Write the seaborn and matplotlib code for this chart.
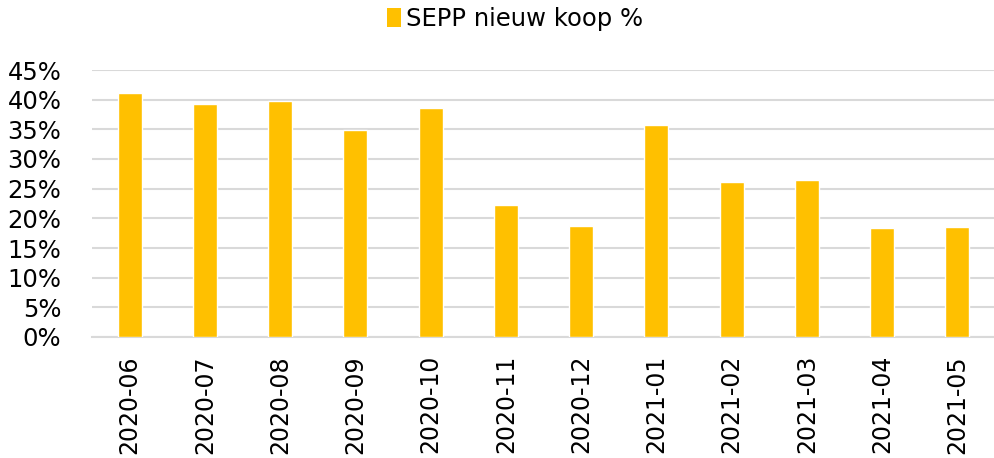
import matplotlib
matplotlib.use("Agg")
import matplotlib.pyplot as plt
import seaborn as sns
import pandas as pd
from matplotlib.patches import Patch
from matplotlib.ticker import FuncFormatter, MultipleLocator

months = ["2020-06", "2020-07", "2020-08", "2020-09", "2020-10", "2020-11",
          "2020-12", "2021-01", "2021-02", "2021-03", "2021-04", "2021-05"]
sepp_nieuw_koop = [41.1, 39.2, 39.8, 34.9, 38.6, 22.2, 18.7, 35.7, 26.1, 26.5, 18.4, 18.6]
series_name = "SEPP nieuw koop %"

df = pd.DataFrame({"maand": months, "waarde": sepp_nieuw_koop})

sns.set_theme(style="white")
plt.rcParams["font.family"] = ["DejaVu Sans"]
plt.rcParams["text.color"] = "black"

fig = plt.figure(figsize=(9.95, 4.58), dpi=100)
ax = fig.add_axes([92 / 995, 1 - 337 / 458, (995 - 92) / 995, (337 - 70) / 458])

bar_color = "#FFC000"
sns.barplot(data=df, x="maand", y="waarde", color=bar_color, width=0.32,
            saturation=1, ax=ax, zorder=3)

ax.set_ylim(0, 45)
ax.set_xlim(-0.5, len(months) - 0.5)
ax.yaxis.set_major_locator(MultipleLocator(5))
ax.yaxis.set_major_formatter(FuncFormatter(lambda v, p: f"{v:.0f}%"))
ax.grid(axis="y", color="#D9D9D9", linewidth=1.5, zorder=0)
ax.set_axisbelow(True)
for s in ["top", "right", "left"]:
    ax.spines[s].set_visible(False)
ax.spines["bottom"].set_color("#D9D9D9")
ax.spines["bottom"].set_linewidth(1.5)
ax.set_xlabel("")
ax.set_ylabel("")
ax.tick_params(axis="y", labelsize=17.5, pad=22, length=0, colors="black")
ax.tick_params(axis="x", labelsize=17, pad=13, length=0, colors="black", rotation=90)

fig.legend(handles=[Patch(facecolor=bar_color, edgecolor="none", label=series_name)],
           loc="center", bbox_to_anchor=(515 / 995, 1 - 19 / 458), frameon=False,
           fontsize=17.5, handlelength=0.55, handleheight=0.8, handletextpad=0.2,
           labelcolor="black")

fig.savefig("out.png", dpi=100)
